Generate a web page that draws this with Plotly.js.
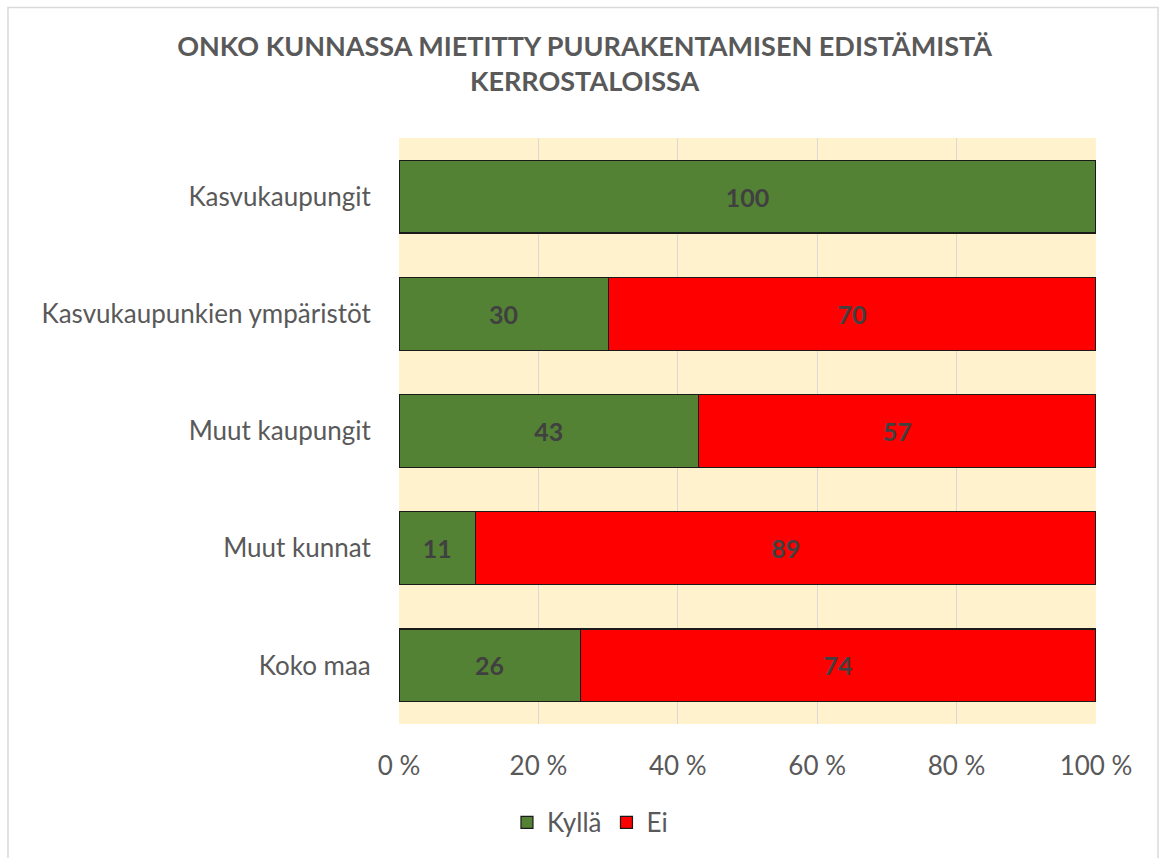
<!DOCTYPE html>
<html>
<head>
<meta charset="utf-8">
<script src="https://cdn.plot.ly/plotly-3.0.1.min.js"></script>
<style>html,body{margin:0;padding:0;background:#fff;}#chart{width:1160px;height:858px;}</style>
</head>
<body>
<div id="chart"></div>
<script>
const categories = ["Kasvukaupungit", "Kasvukaupunkien ympäristöt", "Muut kaupungit", "Muut kunnat", "Koko maa"];
const kyllaValues = [100, 30, 43, 11, 26];
const eiValues = [0, 70, 57, 89, 74];
const seriesNames = ["Kyllä", "Ei"];
const tickValues = [0, 20, 40, 60, 80, 100];
const tickLabels = ["0 %", "20 %", "40 %", "60 %", "80 %", "100 %"];

const FONT = "Lato, 'Open Sans', sans-serif";
const labelFont = {family: FONT, size: 25, color: "#404040", weight: "bold"};

function lbl(vals){ return vals.map(v => v > 0 ? String(v) : ""); }

const traces = [
  {type: "bar", orientation: "h", name: seriesNames[0], y: categories, x: kyllaValues,
   marker: {color: "#548235", line: {color: "#1a1a1a", width: 1.2}},
   text: lbl(kyllaValues), textposition: "inside", insidetextanchor: "middle",
   textfont: labelFont, hoverinfo: "x+y"},
  {type: "bar", orientation: "h", name: seriesNames[1], y: categories, x: eiValues,
   marker: {color: "#FF0000", line: {color: "#1a1a1a", width: 1.2}},
   text: lbl(eiValues), textposition: "inside", insidetextanchor: "middle",
   textfont: labelFont, hoverinfo: "x+y"}
];

const layout = {
  width: 1160, height: 858,
  margin: {l: 399, r: 64, t: 138, b: 132},
  paper_bgcolor: "#ffffff",
  plot_bgcolor: "#FFF2CC",
  barmode: "stack",
  bargap: 0.38,
  font: {family: FONT, size: 26, color: "#595959"},
  title: {
    text: "ONKO KUNNASSA MIETITTY PUURAKENTAMISEN EDISTÄMISTÄ<br>KERROSTALOISSA",
    font: {family: FONT, size: 27, color: "#595959", weight: "bold"},
    x: 0.504, xref: "container", xanchor: "center",
    y: 0.935, yref: "container", yanchor: "top"
  },
  xaxis: {
    range: [0, 100], tickvals: tickValues, ticktext: tickLabels,
    showgrid: true, gridcolor: "#D9D9D9", gridwidth: 1,
    zeroline: false, showline: false, ticks: "outside", ticklen: 19, tickcolor: "rgba(0,0,0,0)",
    tickfont: {family: FONT, size: 26, color: "#595959"},
    fixedrange: true
  },
  yaxis: {
    type: "category", autorange: "reversed",
    showgrid: false, zeroline: false, showline: false, ticks: "outside", ticklen: 22, tickcolor: "rgba(0,0,0,0)",
    tickfont: {family: FONT, size: 26, color: "#595959"},
    fixedrange: true
  },
  showlegend: true,
  legend: {
    orientation: "h", x: 0.274, xanchor: "center", y: -0.168, yanchor: "middle",
    font: {family: FONT, size: 26, color: "#595959"},
    traceorder: "normal", itemwidth: 30
  },
  shapes: [
    {type: "rect", xref: "paper", yref: "paper", x0: -0.561, x1: 1.089, y0: -0.235, y1: 1.2228,
     line: {color: "#D9D9D9", width: 1.5}, fillcolor: "rgba(0,0,0,0)", layer: "below"}
  ]
};

Plotly.newPlot("chart", traces, layout, {displayModeBar: false, staticPlot: true});
</script>
</body>
</html>
